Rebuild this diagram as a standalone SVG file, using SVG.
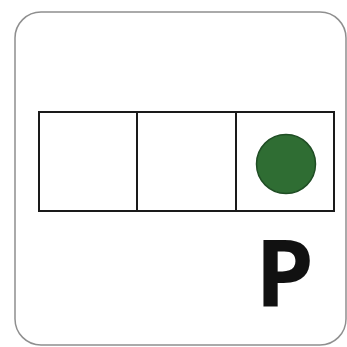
<svg xmlns="http://www.w3.org/2000/svg" width="347" height="347" viewBox="0 0 347 347">
<style>
.cell{fill:#fff;stroke:#1a1a1a;stroke-width:2}
</style>
<rect width="347" height="347" fill="#fff"/>
<rect id="frame" x="15" y="12" width="331" height="333" rx="26" fill="#fff" stroke="#8f8f8f" stroke-width="1.5"/>
<g id="cell1"><rect class="cell" x="39" y="112" width="98" height="99"/></g>
<g id="cell2"><rect class="cell" x="137" y="112" width="99" height="99"/></g>
<g id="cell3"><rect class="cell" x="236" y="112" width="98" height="99"/>
<circle cx="286" cy="164" r="29.5" fill="#2f6d33" stroke="#1f4d24" stroke-width="1.5"/></g>
<text x="255" y="307" font-family="'Open Sans', 'Noto Sans', sans-serif" font-weight="bold" font-size="94" fill="#111">P</text>
</svg>
